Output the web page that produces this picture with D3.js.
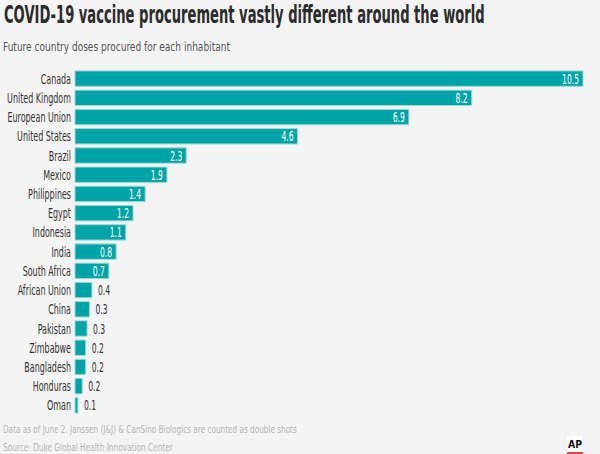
<!doctype html>
<html lang="en">
  <head>
    <meta charset="utf-8">
    <title>COVID-19 vaccine procurement</title>
    <script src="https://d3js.org/d3.v7.min.js"></script>
    <style>
      body { margin: 0; background: #f4f4f4; }
      svg { display: block; font-family: "DejaVu Sans Condensed", "DejaVu Sans", sans-serif; font-stretch: condensed; }
    </style>
  </head>

  <body>
    <svg width="600" height="454"></svg>
    <script>
      var countries = ['Canada', 'United Kingdom', 'European Union', 'United States', 'Brazil', 'Mexico',
        'Philippines', 'Egypt', 'Indonesia', 'India', 'South Africa', 'African Union', 'China',
        'Pakistan', 'Zimbabwe', 'Bangladesh', 'Honduras', 'Oman'];
      var doses = [10.5, 8.2, 6.9, 4.6, 2.3, 1.9, 1.4, 1.2, 1.1, 0.8, 0.7, 0.4, 0.3, 0.3, 0.2, 0.2, 0.2, 0.1];
      // bar widths as drawn (labels are rounded)
      var widths = [10.5, 8.2, 6.9, 4.6, 2.3, 1.9, 1.45, 1.2, 1.05, 0.85, 0.7, 0.35, 0.3, 0.25, 0.22, 0.22, 0.15, 0.06];

      var data = countries.map(function(c, i){ return {name: c, value: doses[i], w: widths[i]}; });

      var svg = d3.select('svg');

      // squeeze text horizontally so a sample string hits a target width
      var squeeze = function(sel, sample, target){
        var probe = svg.append('text').attr('style', sel.attr('style')).text(sample);
        var k = target / probe.node().getComputedTextLength();
        probe.remove();
        sel.each(function(){
          var t = d3.select(this);
          var x0 = +t.attr('x'), y0 = +t.attr('y');
          t.attr('x', 0).attr('y', 0)
            .attr('transform', 'translate(' + x0 + ',' + y0 + ') scale(' + k + ',1)');
        });
      };

      var title = svg.append('text').attr('x', 4).attr('y', 23)
        .attr('style', 'font-size:24px;font-weight:bold;fill:#2b2b2b')
        .text('COVID-19 vaccine procurement vastly different around the world');
      squeeze(title, title.text(), 481);

      var sub = svg.append('text').attr('x', 3).attr('y', 51)
        .attr('style', 'font-size:13px;fill:#555')
        .text('Future country doses procured for each inhabitant');
      squeeze(sub, sub.text(), 227);

      var x = d3.scaleLinear().domain([0, 10.5]).range([75, 583]);
      var y = d3.scaleBand().domain(countries).range([69, 415]).paddingInner(0.2).paddingOuter(0.1);

      var rows = svg.selectAll('g.row').data(data).enter()
        .append('g').attr('class', 'row')
        .attr('transform', function(d){ return 'translate(0,' + y(d.name) + ')'; });

      rows.append('rect')
        .attr('x', x(0))
        .attr('width', function(d){ return x(d.w) - x(0); })
        .attr('height', y.bandwidth())
        .style('fill', '#00a3a6')
        .style('stroke', '#9fd9da')
        .style('stroke-width', 1);

      var names = rows.append('text')
        .attr('x', x(0) - 4)
        .attr('y', y.bandwidth() / 2 + 5)
        .attr('text-anchor', 'end')
        .attr('style', 'font-size:14px;fill:#333')
        .text(function(d){ return d.name; });
      squeeze(names, 'United Kingdom', 64);

      var vals = rows.append('text')
        .attr('x', function(d){ return d.value >= 0.7 ? x(d.w) - 4 : x(d.w) + 6; })
        .attr('y', y.bandwidth() / 2 + 5)
        .attr('text-anchor', function(d){ return d.value >= 0.7 ? 'end' : 'start'; })
        .attr('style', function(d){ return 'font-size:14px;fill:' + (d.value >= 0.7 ? '#fff' : '#333'); })
        .text(function(d){ return d.value; });
      squeeze(vals, '10.5', 17);

      var note = svg.append('text').attr('x', 3).attr('y', 433)
        .attr('style', 'font-size:11px;fill:#b5b5b5')
        .text('Data as of June 2. Janssen (J&J) & CanSino Biologics are counted as double shots');
      squeeze(note, note.text(), 294);
      var src = svg.append('text').attr('x', 3).attr('y', 451)
        .attr('style', 'font-size:11px;fill:#b5b5b5')
        .text('Source: Duke Global Health Innovation Center');
      squeeze(src, src.text(), 170);

      // AP logo
      svg.append('rect').attr('x', 567).attr('y', 436).attr('width', 16).attr('height', 18).style('fill', '#fff');
      var ap = svg.append('text').attr('x', 568).attr('y', 448)
        .attr('style', 'font-size:11px;font-weight:bold;fill:#111').text('AP');
      squeeze(ap, 'AP', 14);
      svg.append('rect').attr('x', 567).attr('y', 452).attr('width', 16).attr('height', 2).style('fill', '#e0474c');
    </script>
  </body>
</html>
